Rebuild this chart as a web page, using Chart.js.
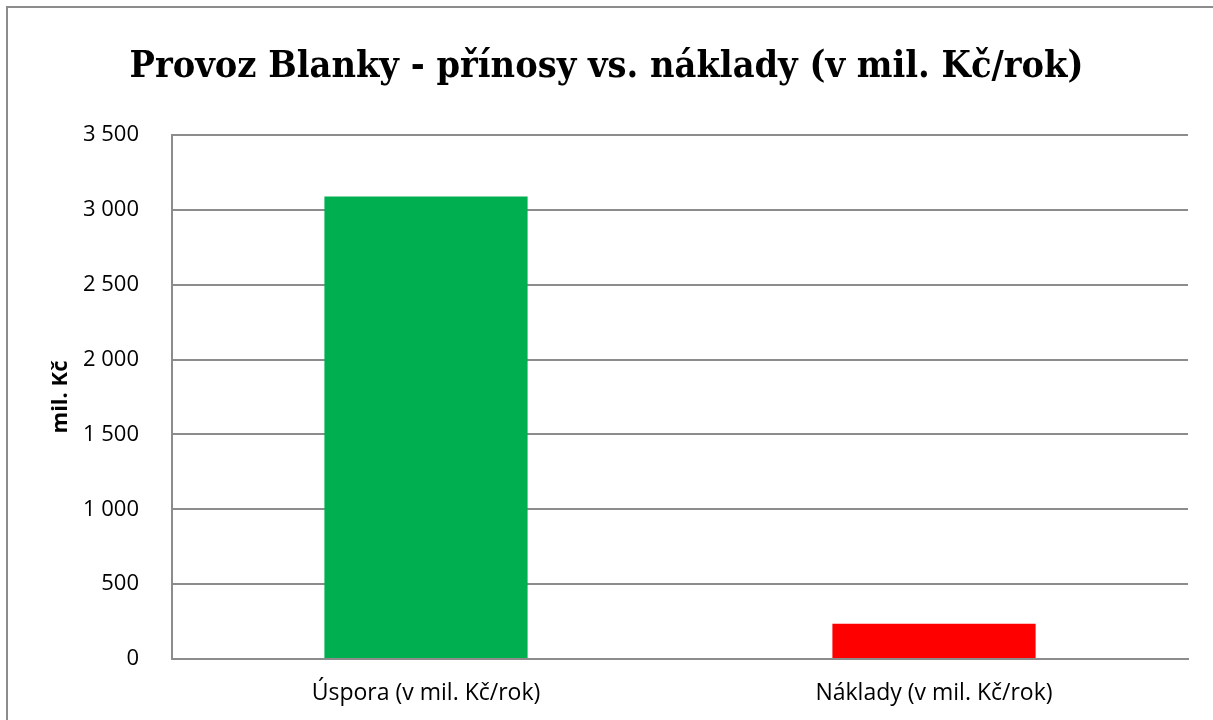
<!DOCTYPE html>
<html>
<head>
<meta charset="utf-8">
<script src="https://cdn.jsdelivr.net/npm/chart.js@4"></script>
<style>
  html, body { margin: 0; padding: 0; background: #fff; }
  #wrap { position: relative; width: 1213px; height: 720px; overflow: hidden; }
  #frame { position: absolute; left: 6px; top: 6px; width: 1300px; height: 800px; border: 2px solid #8c8c8c; }
  #chart { position: absolute; left: 0; top: 0; }
</style>
</head>
<body>
<div id="wrap">
  <div id="frame"></div>
  <canvas id="chart" width="1213" height="720"></canvas>
</div>
<script>
// chart data
var categories = ["Úspora (v mil. Kč/rok)", "Náklady (v mil. Kč/rok)"];
var values = [3090, 235];
var barColors = ["#00b050", "#ff0000"];
var yTicks = [0, 500, 1000, 1500, 2000, 2500, 3000, 3500];

var sans = "'Open Sans', 'Liberation Sans', sans-serif";

function fmt(v) {
    return String(v).replace(/\B(?=(\d{3})+(?!\d))/g, ' ');
}

var ctx = document.getElementById("chart").getContext('2d');
var myChart = new Chart(ctx, {
    type: 'bar',
    data: {
        labels: categories,
        datasets: [{
            data: values,
            backgroundColor: barColors,
            borderWidth: 0,
            barPercentage: 0.4,
            categoryPercentage: 1.0
        }]
    },
    options: {
        responsive: false,
        animation: false,
        layout: { padding: { left: 25, right: 25, top: 0, bottom: 0 } },
        plugins: {
            legend: { display: false },
            tooltip: { enabled: false },
            title: {
                display: true,
                text: 'Provoz Blanky - přínosy vs. náklady (v mil. Kč/rok)',
                color: '#000',
                font: { family: "'DejaVu Serif Condensed', 'DejaVu Serif', serif", size: 37.5, weight: 'bold' },
                padding: { top: 45, bottom: 45 }
            }
        },
        scales: {
            x: {
                grid: { display: false, drawTicks: false },
                border: { display: true, color: '#8c8c8c', width: 2 },
                ticks: { color: '#000', font: { family: sans, size: 23 }, padding: 21 },
                afterFit: function (scale) { scale.height = 61; }
            },
            y: {
                min: 0,
                max: 3500,
                afterBuildTicks: function (scale) {
                    scale.ticks = yTicks.map(function (v) { return { value: v }; });
                },
                grid: { color: '#8c8c8c', lineWidth: 2, drawTicks: false },
                border: { display: true, color: '#8c8c8c', width: 2 },
                ticks: {
                    color: '#000',
                    font: { family: sans, size: 22 },
                    padding: 33,
                    callback: function (v) { return fmt(v); }
                },
                title: {
                    display: true,
                    text: 'mil. Kč',
                    color: '#000',
                    font: { family: sans, size: 22, weight: 'bold' },
                    padding: { top: 23, bottom: 0 }
                },
                afterFit: function (scale) { scale.width = 147; }
            }
        }
    }
});
</script>
</body>
</html>
